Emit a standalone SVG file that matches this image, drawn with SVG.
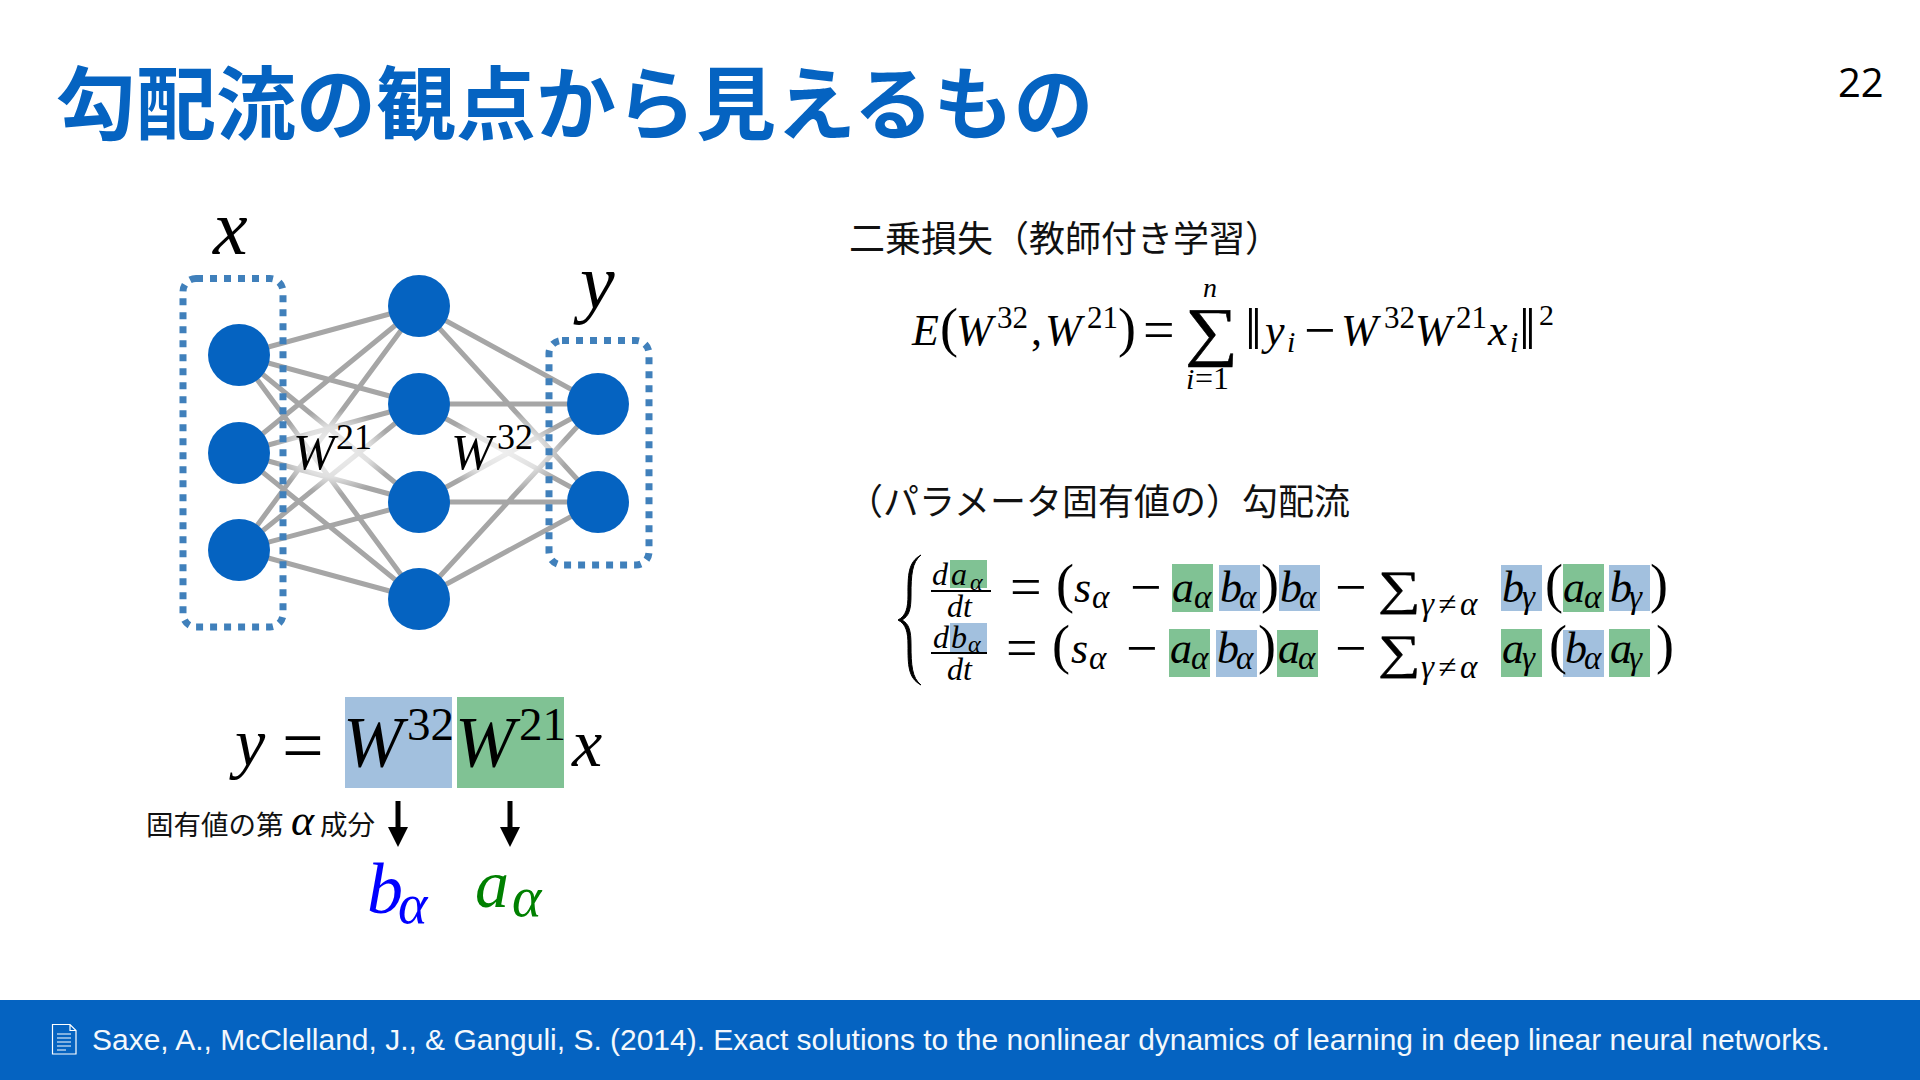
<svg xmlns="http://www.w3.org/2000/svg" width="1920" height="1080" viewBox="0 0 1920 1080">
<defs>
<style>
.m{font-family:"Liberation Serif",serif;font-style:italic;fill:#000;font-size:44px}
.r{font-family:"Liberation Serif",serif;fill:#000;font-size:44px}
.s{font-size:30px}
.a{font-size:33px}
.o{font-size:56px}
.p{font-size:54px;font-family:"Liberation Serif",serif;fill:#000}
.j{font-family:"Noto Sans CJK JP","Noto Sans",sans-serif;fill:#111;font-size:36px}
.e{stroke:#a6a6a6;stroke-width:5;fill:none}
.n{fill:#0563c1}
.d{fill:none;stroke:#4080bb;stroke-width:7;stroke-dasharray:7 7}
.bl{fill:#a2c0de}.gr{fill:#80c294}
.f{stroke:#000;stroke-width:2;fill:none}
</style>
<radialGradient id="g"><stop offset="0" stop-color="#fff" stop-opacity=".82"/><stop offset=".6" stop-color="#fff" stop-opacity=".65"/><stop offset="1" stop-color="#fff" stop-opacity="0"/></radialGradient>
<marker id="ah" markerUnits="userSpaceOnUse" markerWidth="20" markerHeight="20" refX="0" refY="10" orient="auto"><path d="M0 0L20 10L0 20Z" fill="#000"/></marker>
</defs>
<rect width="1920" height="1080" fill="#fff"/>
<text x="56" y="133" font-family="'Noto Sans CJK JP',sans-serif" font-weight="700" font-size="80" fill="#0563c1">勾配流の観点から見えるもの</text>
<text x="1838" y="97" font-family="'Open Sans',sans-serif" font-size="40" fill="#000">22</text>

<g id="connectors">
<path class="e" d="M239 355L419 306M239 355L419 404M239 355L419 502M239 355L419 599M239 453L419 306M239 453L419 404M239 453L419 502M239 453L419 599M239 550L419 306M239 550L419 404M239 550L419 502M239 550L419 599M419 306L598 404M419 306L598 502M419 404L598 404M419 404L598 502M419 502L598 404M419 502L598 502M419 599L598 404M419 599L598 502"/>
</g>
<ellipse cx="334" cy="452" rx="60" ry="42" fill="url(#g)"/>
<ellipse cx="503" cy="452" rx="66" ry="40" fill="url(#g)"/>
<g id="group-x"><rect class="d" x="183" y="278.500" width="100" height="348.500" rx="13"/></g>
<g id="group-y"><rect class="d" x="549" y="340.500" width="100" height="224.500" rx="13"/></g>
<g id="n1"><circle class="n" cx="239" cy="355" r="31"/></g>
<g id="n2"><circle class="n" cx="239" cy="453" r="31"/></g>
<g id="n3"><circle class="n" cx="239" cy="550" r="31"/></g>
<g id="n4"><circle class="n" cx="419" cy="306" r="31"/></g>
<g id="n5"><circle class="n" cx="419" cy="404" r="31"/></g>
<g id="n6"><circle class="n" cx="419" cy="502" r="31"/></g>
<g id="n7"><circle class="n" cx="419" cy="599" r="31"/></g>
<g id="n8"><circle class="n" cx="598" cy="404" r="31"/></g>
<g id="n9"><circle class="n" cx="598" cy="502" r="31"/></g>
<text class="m" x="213" y="254" style="font-size:78px">x</text>
<text class="m" x="580" y="308" style="font-size:78px">y</text>
<text class="m" x="293" y="469" style="font-size:50px">W</text><text class="r" x="336" y="449" style="font-size:36px">21</text>
<text class="m" x="451" y="469" style="font-size:50px">W</text><text class="r" x="497" y="449" style="font-size:36px">32</text>

<g id="matrix-eq">
<rect class="bl" x="345" y="697" width="107" height="91"/><rect class="gr" x="457" y="697" width="107" height="91"/>
<text class="m" x="235" y="766" style="font-size:68px">y</text>
<text class="r" x="282" y="770" style="font-size:74px">=</text>
<text class="m" x="343" y="766" style="font-size:72px">W</text><text class="r" x="407" y="740" style="font-size:47px">32</text>
<text class="m" x="455" y="766" style="font-size:72px">W</text><text class="r" x="519" y="740" style="font-size:47px">21</text>
<text class="m" x="572" y="766" style="font-size:68px">x</text>
<text class="j" x="146" y="835" style="font-size:27.500px">固有値の第</text>
<text class="m" x="291" y="835" style="font-size:44px">α</text>
<text class="j" x="320" y="835" style="font-size:27.500px">成分</text>
<g><line x1="398" y1="801" x2="398" y2="827" stroke="#000" stroke-width="5" marker-end="url(#ah)"/></g>
<g><line x1="510" y1="801" x2="510" y2="827" stroke="#000" stroke-width="5" marker-end="url(#ah)"/></g>
<text class="m" x="367" y="913" style="font-size:72px;fill:#0000ff">b<tspan x="398" y="923" style="font-size:56px">α</tspan></text>
<text class="m" x="475" y="907" style="font-size:68px;fill:#008000">a<tspan x="512" y="916" style="font-size:56px">α</tspan></text>
</g>

<text class="j" x="849" y="252">二乗損失（教師付き学習）</text>
<g id="loss">
<text class="m" x="912" y="345">E</text><text class="p" x="940" y="346">(</text>
<text class="m" x="956" y="345">W</text><text class="r" x="997" y="328" style="font-size:31px">32</text><text class="r" x="1031" y="345">,</text>
<text class="m" x="1045" y="345">W</text><text class="r" x="1087" y="328" style="font-size:31px">21</text><text class="p" x="1118" y="346">)</text>
<text class="r o" x="1143" y="349">=</text>
<text class="r" transform="translate(1185 353) scale(1.2 1.05)" style="font-size:62px;stroke:#000;stroke-width:.5">∑</text>
<text class="m" x="1203" y="297" style="font-size:28px">n</text>
<text class="m" x="1186" y="389" style="font-size:30px">i</text><text class="r" x="1195" y="389" style="font-size:32px">=1</text>
<text class="r" x="1245" y="349" style="font-size:60px">‖</text><text class="m" x="1265" y="345">y</text><text class="m s" x="1287" y="352">i</text>
<text class="r o" x="1304" y="349">−</text>
<text class="m" x="1341" y="345">W</text><text class="r" x="1384" y="328" style="font-size:31px">32</text>
<text class="m" x="1415" y="345">W</text><text class="r" x="1456" y="328" style="font-size:31px">21</text>
<text class="m" x="1488" y="345">x</text><text class="m s" x="1510" y="352">i</text>
<text class="r" x="1519" y="349" style="font-size:60px">‖</text><text class="r s" x="1539" y="325">2</text>
</g>

<text class="j" x="847" y="515">（パラメータ固有値の）勾配流</text>

<g id="flow">
<rect class="gr" x="950" y="560" width="37" height="28"/><rect class="bl" x="950" y="623" width="37" height="29"/>
<rect class="gr" x="1172" y="564" width="41" height="48"/><rect class="bl" x="1219" y="565" width="41" height="46"/><rect class="bl" x="1279" y="565" width="41" height="46"/>
<rect class="bl" x="1501" y="565" width="41" height="46"/><rect class="gr" x="1563" y="564" width="41" height="48"/><rect class="bl" x="1609" y="565" width="41" height="46"/>
<rect class="gr" x="1169" y="629" width="41" height="48"/><rect class="bl" x="1216" y="630" width="41" height="47"/><rect class="gr" x="1277" y="630" width="41" height="47"/>
<rect class="gr" x="1501" y="629" width="41" height="48"/><rect class="bl" x="1563" y="630" width="41" height="47"/><rect class="gr" x="1609" y="629" width="41" height="48"/>
<path d="M921 555C908 562 908 575 908 595C908 608 906 616 898 620C906 624 908 632 908 645C908 665 908 678 921 685C912 678 911 665 911 645C911 630 909 624 902 620C909 616 911 610 911 595C911 575 912 562 921 555Z" fill="#000" stroke="#000" stroke-width="1"/>

<text class="m" x="932" y="585" style="font-size:32px">d<tspan x="951">a</tspan><tspan x="970" y="590" style="font-size:24px">α</tspan></text>
<line class="f" x1="931" y1="591" x2="991" y2="591"/>
<text class="m" x="947" y="617" style="font-size:32px">dt</text>
<text class="r o" x="1010" y="606">=</text><text class="p" x="1056" y="602">(</text>
<text class="m" x="1074" y="602">s<tspan class="a" x="1092" y="608">α</tspan></text><text class="r o" x="1130" y="606">−</text>
<text class="m" x="1172" y="602">a<tspan class="a" x="1194" y="608">α</tspan></text>
<text class="m" x="1220" y="602">b<tspan class="a" x="1239" y="608">α</tspan></text><text class="p" x="1261" y="602">)</text>
<text class="m" x="1280" y="602">b<tspan class="a" x="1299" y="608">α</tspan></text><text class="r o" x="1335" y="606">−</text>
<text class="r" transform="translate(1378 604) scale(1.25 1)" style="font-size:48px;stroke:#000;stroke-width:.4">∑</text>
<text class="m a" x="1421" y="615" style="letter-spacing:4px">γ≠α</text>
<text class="m" x="1502" y="602">b<tspan class="a" x="1522" y="608">γ</tspan></text><text class="p" x="1545" y="602">(</text>
<text class="m" x="1563" y="602">a<tspan class="a" x="1584" y="608">α</tspan></text>
<text class="m" x="1610" y="602">b<tspan class="a" x="1629" y="608">γ</tspan></text><text class="p" x="1650" y="602">)</text>

<text class="m" x="933" y="648" style="font-size:32px">d<tspan x="951">b</tspan><tspan x="968" y="652" style="font-size:24px">α</tspan></text>
<line class="f" x1="931" y1="653" x2="987" y2="653"/>
<text class="m" x="947" y="680" style="font-size:32px">dt</text>
<text class="r o" x="1006" y="667">=</text><text class="p" x="1052" y="663">(</text>
<text class="m" x="1071" y="663">s<tspan class="a" x="1089" y="669">α</tspan></text><text class="r o" x="1126" y="667">−</text>
<text class="m" x="1170" y="663">a<tspan class="a" x="1191" y="669">α</tspan></text>
<text class="m" x="1217" y="663">b<tspan class="a" x="1236" y="669">α</tspan></text><text class="p" x="1258" y="663">)</text>
<text class="m" x="1278" y="663">a<tspan class="a" x="1298" y="669">α</tspan></text><text class="r o" x="1335" y="667">−</text>
<text class="r" transform="translate(1378 668) scale(1.25 1)" style="font-size:48px;stroke:#000;stroke-width:.4">∑</text>
<text class="m a" x="1421" y="678" style="letter-spacing:4px">γ≠α</text>
<text class="m" x="1502" y="663">a<tspan class="a" x="1522" y="669">γ</tspan></text><text class="p" x="1549" y="663">(</text>
<text class="m" x="1565" y="663">b<tspan class="a" x="1584" y="669">α</tspan></text>
<text class="m" x="1610" y="663">a<tspan class="a" x="1629" y="669">γ</tspan></text><text class="p" x="1656" y="663">)</text>
</g>

<g id="footer">
<rect y="1000" width="1920" height="80" fill="#0563c1"/>
<path d="M52.500 1024.500H70L76 1030.500V1054H52.500ZM70 1024.500V1030.500H76M57 1034H71M57 1038H71M57 1042H71M57 1046H71M57 1050H66" fill="none" stroke="#fff" stroke-width="1.200"/>
<text x="92" y="1050" font-family="'Liberation Sans',Arial,sans-serif" font-size="29.970" fill="#f4f8fc">Saxe, A., McClelland, J., &amp; Ganguli, S. (2014). Exact solutions to the nonlinear dynamics of learning in deep linear neural networks.</text>
</g>
</svg>
